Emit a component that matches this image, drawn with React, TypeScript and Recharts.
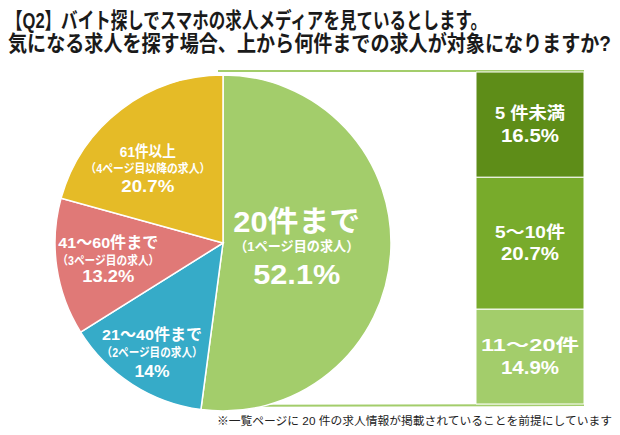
import React from "react";
import { Bar, BarChart, Cell, Pie, PieChart, XAxis, YAxis } from "recharts";

const pieCategories = ["20件まで", "21～40件まで", "41～60件まで", "61件以上"];
const pieSubLabels = ["（1ページ目の求人）", "（2ページ目の求人）", "（3ページ目の求人）", "（4ページ目以降の求人）"];
const pieValues = [52.1, 14, 13.2, 20.7];
const piePctLabels = ["52.1%", "14%", "13.2%", "20.7%"];

// breakdown of the first slice, bottom to top
const barCategories = ["11～20件", "5～10件", "5 件未満"];
const barValues = [14.9, 20.7, 16.5];
const barPctLabels = ["14.9%", "20.7%", "16.5%"];

const titleLines = [
  "【Q2】バイト探しでスマホの求人メディアを見ているとします。",
  "気になる求人を探す場合、上から何件までの求人が対象になりますか?",
];
const footnote = "※一覧ページに 20 件の求人情報が掲載されていることを前提にしています";

const W = 620;
const H = 435;
const FONT = "'Liberation Sans', 'Noto Sans CJK JP', sans-serif";

const PIE_CX = 218;
const PIE_CY = 238;
const PIE_R = 168;
const BAR_LEFT = 476;
const BAR_RIGHT = 584;
const BAR_TOP = 72;
const BAR_BOTTOM = 404;

const pieColors = ["#a3cd6b", "#36abc8", "#e07977", "#e5bb27"];
const barColors = ["#a3cd6b", "#78ab2b", "#5e8d18"];

// label placement per slice
const labelRadius = [0.44, 0.78, 0.69, 0.63];
const labelAngleShift = [0, 0, 0, 8];
const labelSizes = [
  { main: 29, sub: 13.5, pct: 28, gap: [-26, -1, 27], w: [127, 125, 87] },
  { main: 15.5, sub: 12, pct: 17, gap: [-19, 0, 18], w: [100, 101, 35] },
  { main: 15.5, sub: 12, pct: 17, gap: [-17, 1, 17], w: [100, 102, 52] },
  { main: 15.5, sub: 12, pct: 17, gap: [-17, 0, 18], w: [56, 125, 53] },
];

const pieData = pieCategories.map((name, i) => ({ name, value: pieValues[i] }));

const barRow: Record<string, string | number> = { name: pieCategories[0] };
barCategories.forEach((_, i) => {
  barRow[`s${i}`] = barValues[i];
});
const barData = [barRow];

const RAD = Math.PI / 180;

const renderPieLabel = (props: any) => {
  const { cx, cy, midAngle, outerRadius, index } = props;
  const a = (midAngle + labelAngleShift[index]) * RAD;
  const r = outerRadius * labelRadius[index];
  const x = cx + r * Math.cos(-a);
  const y = cy + r * Math.sin(-a);
  const s = labelSizes[index];
  const lines = [
    { t: pieCategories[index], size: s.main },
    { t: pieSubLabels[index], size: s.sub },
    { t: piePctLabels[index], size: s.pct },
  ];
  return (
    <g key={`pl-${index}`}>
      {lines.map((l, j) => (
        <text
          key={j}
          x={x}
          y={y + s.gap[j]}
          textAnchor="middle"
          dominantBaseline="central"
          fill="#fff"
          fontFamily={FONT}
          fontWeight="bold"
          fontSize={l.size}
          textLength={s.w[j]}
          lengthAdjust="spacingAndGlyphs"
        >
          {l.t}
        </text>
      ))}
    </g>
  );
};

const barLabel = (i: number) => (props: any) => {
  const { x, y, width, height } = props;
  const cx = x + width / 2;
  const cy = y + height / 2;
  return (
    <g>
      <text
        x={cx}
        y={cy - 11}
        textAnchor="middle"
        dominantBaseline="central"
        fill="#fff"
        fontFamily={FONT}
        fontWeight="bold"
        fontSize={17}
        textLength={i === 0 ? 98 : 70}
        lengthAdjust="spacingAndGlyphs"
      >
        {barCategories[i]}
      </text>
      <text
        x={cx}
        y={cy + 11}
        textAnchor="middle"
        dominantBaseline="central"
        fill="#fff"
        fontFamily={FONT}
        fontWeight="bold"
        fontSize={18}
        textLength={58}
        lengthAdjust="spacingAndGlyphs"
      >
        {barPctLabels[i]}
      </text>
    </g>
  );
};

// title is drawn narrower than the font's natural width
const TITLE_SX = 0.86;

export default function App() {
  const layer: React.CSSProperties = { position: "absolute", left: 0, top: 0 };
  return (
    <div style={{ position: "absolute", left: 0, top: 0, width: W, height: H, background: "#fff" }}>
      <svg width={W} height={H} style={layer}>
        <line x1={PIE_CX} y1={PIE_CY - PIE_R + 1} x2={BAR_RIGHT} y2={BAR_TOP - 1} stroke="#a3cd6b" strokeWidth={2} />
        <line x1={PIE_CX - 20} y1={PIE_CY + PIE_R} x2={BAR_RIGHT} y2={BAR_BOTTOM + 1} stroke="#a3cd6b" strokeWidth={2} />
      </svg>
      <div style={layer}>
        <PieChart width={W} height={H}>
          <Pie
            data={pieData}
            dataKey="value"
            cx={PIE_CX}
            cy={PIE_CY}
            outerRadius={PIE_R}
            startAngle={90}
            endAngle={-270}
            stroke="#fff"
            strokeWidth={1.5}
            label={renderPieLabel}
            labelLine={false}
            isAnimationActive={false}
          >
            {pieData.map((d, i) => (
              <Cell key={d.name} fill={pieColors[i]} />
            ))}
          </Pie>
        </PieChart>
      </div>
      <div style={layer}>
        <BarChart
          width={W}
          height={H}
          data={barData}
          barCategoryGap={0}
          margin={{ top: BAR_TOP, right: W - BAR_RIGHT, bottom: H - BAR_BOTTOM, left: BAR_LEFT }}
        >
          <XAxis dataKey="name" hide />
          <YAxis hide domain={[0, pieValues[0]]} />
          {barCategories.map((c, i) => (
            <Bar
              key={c}
              dataKey={`s${i}`}
              stackId="a"
              fill={barColors[i]}
              stroke="#fff"
              strokeWidth={1}
              label={barLabel(i)}
              isAnimationActive={false}
            />
          ))}
        </BarChart>
      </div>
      <svg width={W} height={H} style={{ ...layer, pointerEvents: "none" }}>
        {titleLines.map((t, i) => (
          <g key={i} transform={`translate(${i === 0 ? 6 : 8}, ${i === 0 ? 20 : 43}) scale(${TITLE_SX}, 1)`}>
            <text
              x={0}
              y={0}
              dominantBaseline="central"
              fill="#1a1a1a"
              fontFamily={FONT}
              fontWeight="bold"
              fontSize={22}
              textLength={(i === 0 ? 481 : 603) / TITLE_SX}
              lengthAdjust="spacingAndGlyphs"
            >
              {t}
            </text>
          </g>
        ))}
        <text
          x={217}
          y={421}
          dominantBaseline="central"
          fill="#222"
          fontFamily={FONT}
          fontSize={11.5}
          textLength={395}
          lengthAdjust="spacingAndGlyphs"
        >
          {footnote}
        </text>
      </svg>
    </div>
  );
}
